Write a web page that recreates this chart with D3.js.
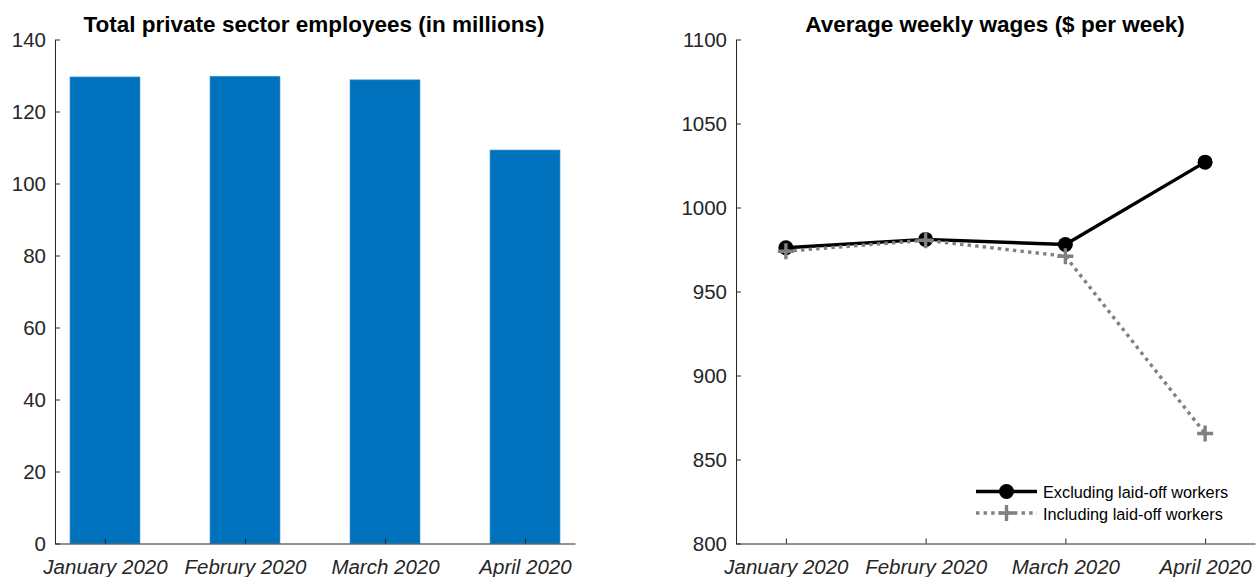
<!DOCTYPE html>
<html>
<head>
<meta charset="utf-8">
<script src="https://cdn.jsdelivr.net/npm/d3@7"></script>
<style>
  body { margin: 0; background: #fff; }
  svg { font-family: "Liberation Sans", Arial, sans-serif; }
  .tick text { fill: #262626; }
</style>
</head>
<body>
<svg id="chart" width="1259" height="577"></svg>
<script>
// chart data
var months = ["January 2020", "Februry 2020", "March 2020", "April 2020"];
var employees = [129.6, 129.8, 128.8, 109.3];           // millions
var wagesExcluding = [976, 981, 978, 1027];             // $ per week
var wagesIncluding = [974, 980.5, 971, 865.5];
var empTicks = [0, 20, 40, 60, 80, 100, 120, 140];
var wageTicks = [800, 850, 900, 950, 1000, 1050, 1100];

var svg = d3.select("#chart");
var axisColor = "#262626";
var plotTop = 39.5, plotBottom = 543.5;

// helper: matlab-like axes (ticks pointing inward)
function drawAxes(g, x, y, yTicks, left) {
    var xa = g.append("g").attr("transform", "translate(0," + plotBottom + ")")
        .call(d3.axisBottom(x).tickValues([1, 2, 3, 4]).tickSizeInner(-5).tickSizeOuter(0)
            .tickFormat(function (d) { return months[d - 1]; }));
    xa.select(".domain").attr("stroke", axisColor);
    xa.selectAll(".tick line").attr("stroke", axisColor);
    xa.selectAll(".tick text").attr("font-size", 20.5).attr("font-style", "italic")
        .attr("dy", "1.1em").attr("y", 8);

    var ya = g.append("g").attr("transform", "translate(" + left + ",0)")
        .call(d3.axisLeft(y).tickValues(yTicks).tickSizeInner(-5).tickSizeOuter(0)
            .tickFormat(d3.format("d")));
    ya.select(".domain").attr("stroke", axisColor);
    ya.selectAll(".tick line").attr("stroke", axisColor);
    ya.selectAll(".tick text").attr("font-size", 20.5).attr("x", -9);
}

//------------------------------------
// left panel: bars
var xL = d3.scaleLinear().domain([0.643, 4.357]).range([55, 575]);
var yL = d3.scaleLinear().domain([0, 140]).range([plotBottom, plotTop]);
var gL = svg.append("g");

gL.selectAll("rect.bar").data(employees).enter().append("rect")
    .attr("class", "bar")
    .attr("x", function (d, i) { return xL(i + 1 - 0.25); })
    .attr("width", xL(1.25) - xL(0.75))
    .attr("y", function (d) { return yL(d); })
    .attr("height", function (d) { return yL(0) - yL(d); })
    .attr("fill", "#0072BD")
    .attr("stroke", "#4d9bd3")
    .attr("stroke-width", 0.6);

drawAxes(gL, xL, yL, empTicks, 55);

gL.append("text").attr("x", 314).attr("y", 32).attr("text-anchor", "middle")
    .attr("font-size", 22.5).attr("font-weight", "bold").attr("fill", "#000")
    .text("Total private sector employees (in millions)");

//------------------------------------
// right panel: lines
var xR = d3.scaleLinear().domain([0.643, 4.357]).range([736, 1255]);
var yR = d3.scaleLinear().domain([800, 1100]).range([plotBottom, plotTop]);
var gR = svg.append("g");

drawAxes(gR, xR, yR, wageTicks, 736);

var line = d3.line()
    .x(function (d, i) { return xR(i + 1); })
    .y(function (d) { return yR(d); });

function plusPath(cx, cy, s) {
    return "M" + (cx - s) + "," + cy + "H" + (cx + s) + "M" + cx + "," + (cy - s) + "V" + (cy + s);
}

gR.append("path").datum(wagesExcluding).attr("d", line)
    .attr("fill", "none").attr("stroke", "#000").attr("stroke-width", 3.4);
gR.selectAll("circle.exc").data(wagesExcluding).enter().append("circle")
    .attr("class", "exc")
    .attr("cx", function (d, i) { return xR(i + 1); })
    .attr("cy", function (d) { return yR(d); })
    .attr("r", 7.5).attr("fill", "#000");

gR.append("path").datum(wagesIncluding).attr("d", line)
    .attr("fill", "none").attr("stroke", "#808080").attr("stroke-width", 3.4)
    .attr("stroke-dasharray", "3.4,4.2");
gR.selectAll("path.inc").data(wagesIncluding).enter().append("path")
    .attr("class", "inc")
    .attr("d", function (d, i) { return plusPath(xR(i + 1), yR(d), 8); })
    .attr("stroke", "#808080").attr("stroke-width", 3.4).attr("fill", "none");

gR.append("text").attr("x", 995).attr("y", 32).attr("text-anchor", "middle")
    .attr("font-size", 22.5).attr("font-weight", "bold").attr("fill", "#000")
    .text("Average weekly wages ($ per week)");

// legend
var legend = gR.append("g");
legend.append("line").attr("x1", 976).attr("x2", 1037).attr("y1", 491.5).attr("y2", 491.5)
    .attr("stroke", "#000").attr("stroke-width", 3.4);
legend.append("circle").attr("cx", 1006.5).attr("cy", 491.5).attr("r", 7.5).attr("fill", "#000");
legend.append("line").attr("x1", 976).attr("x2", 1037).attr("y1", 513).attr("y2", 513)
    .attr("stroke", "#808080").attr("stroke-width", 3.4).attr("stroke-dasharray", "3.4,4.2");
legend.append("path").attr("d", plusPath(1006.5, 513, 8))
    .attr("stroke", "#808080").attr("stroke-width", 3.4).attr("fill", "none");
legend.append("text").attr("x", 1043).attr("y", 497.5).attr("font-size", 16.3).attr("fill", "#000")
    .text("Excluding laid-off workers");
legend.append("text").attr("x", 1043).attr("y", 519.5).attr("font-size", 16.3).attr("fill", "#000")
    .text("Including laid-off workers");
</script>
</body>
</html>
